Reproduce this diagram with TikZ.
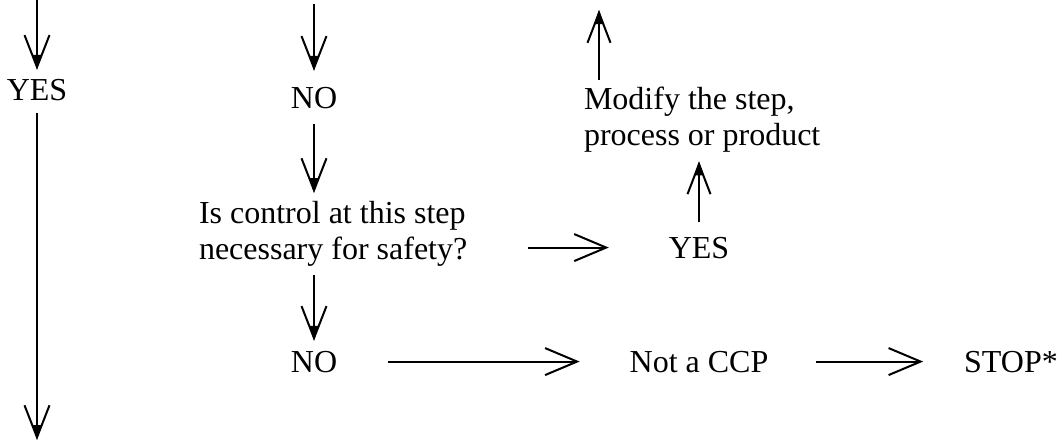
\documentclass[tikz,border=0pt]{standalone}
\usepackage{fontspec}
\setmainfont{Liberation Serif}
\usetikzlibrary{arrows.meta}

\begin{document}
\begin{tikzpicture}[x=0.5pt,y=-0.5pt,line width=1pt,font=\fontsize{16}{18}\selectfont]
  \tikzstyle{txt}=[inner sep=0pt,anchor=base]
  \tikzstyle{dn}=[-{Straight Barb[length=16pt,width=12.5pt,sharp]},postaction={draw,-{Triangle[length=7.5pt,width=4pt]}}]
  \tikzstyle{upw}=[-{Straight Barb[length=15pt,width=11.5pt,sharp]},postaction={draw,-{Triangle[length=7pt,width=4.5pt]}}]
  \tikzstyle{rt}=[-{Straight Barb[length=16pt,width=13.5pt,sharp]}]
  \useasboundingbox (0,0) rectangle (1064,441);
  \coordinate (roof) at (0,0);
  \coordinate (floor) at (0,441);

  \node[txt] (yesL) at (37,100) {YES};
  \node[txt] (noA) at (314,108) {NO};
  \node[txt,anchor=north west,align=left] (quest) at (198,200) {Is control at this step\\necessary for safety?};
  \node[txt,anchor=north west,align=left] (modify) at (583,86) {Modify the step,\\process or product};
  \node[txt] (yesR) at (699,258) {YES};
  \node[txt] (noB) at (314,372) {NO};
  \node[txt] (notccp) at (699,372) {Not a CCP};
  \node[txt] (stop) at (1011,372) {STOP*};

  \draw[dn,shorten >=4pt] (yesL.north |- roof) -- (yesL.north);
  \draw[dn,shorten <=2pt,shorten >=7.5pt] (noA.north |- roof) -- (noA.north);
  \draw[upw,shorten <=3pt,shorten >=5pt] ([xshift=8pt]modify.north west) -- ([xshift=8pt]modify.north west |- roof);
  \draw[dn,shorten <=6pt,shorten >=0.5pt] (yesL.south) -- (yesL.south |- floor);
  \draw[dn,shorten <=7.5pt,shorten >=3.5pt] (noA.south) -- (noA.south |- quest.north);
  \draw[dn,shorten <=4pt,shorten >=4.5pt] (noB.north |- quest.south) -- (noB.north);
  \draw[rt,shorten <=30pt,shorten >=29.5pt] (quest.east |- yesR.center) -- (yesR.west);
  \draw[upw,shorten <=7pt,shorten >=4pt] (yesR.north) -- (yesR.north |- modify.south);
  \draw[rt,shorten <=25pt,shorten >=24.5pt] (noB.east) -- (notccp.west);
  \draw[rt,shorten <=23.5pt,shorten >=20pt] (notccp.east) -- (stop.west);
\end{tikzpicture}
\end{document}
